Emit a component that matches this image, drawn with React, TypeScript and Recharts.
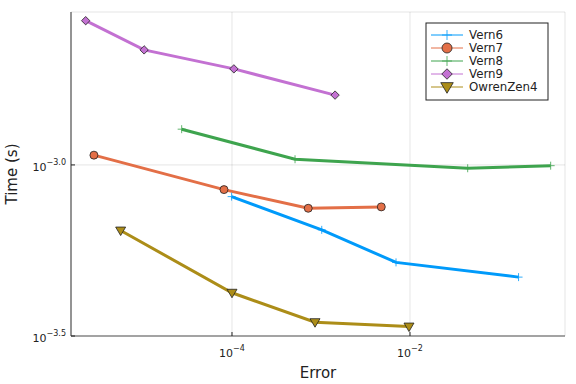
import React from "react";
import { LineChart, Line, XAxis, YAxis, CartesianGrid } from "recharts";

// errors (x) and run times in seconds (y)
const vern6Err = [9.9e-5, 1.02e-3, 6.97e-3, 0.166];
const vern6Time = [8.08e-4, 6.46e-4, 5.19e-4, 4.7e-4];
const vern7Err = [2.81e-6, 8.13e-5, 7.19e-4, 4.76e-3];
const vern7Time = [1.068e-3, 8.47e-4, 7.47e-4, 7.54e-4];
const vern8Err = [2.72e-5, 5.11e-4, 0.0445, 0.381];
const vern8Time = [1.272e-3, 1.039e-3, 9.78e-4, 9.95e-4];
const vern9Err = [2.27e-6, 1.03e-5, 1.05e-4, 1.44e-3];
const vern9Time = [2.64e-3, 2.169e-3, 1.909e-3, 1.6e-3];
const owrenErr = [5.61e-6, 1.0e-4, 8.57e-4, 9.75e-3];
const owrenTime = [6.43e-4, 4.23e-4, 3.47e-4, 3.37e-4];

const xTicks = [1e-4, 1e-2];
const yTicks = [Math.pow(10, -3.5), 1e-3];

const FONT = "DejaVu Sans, sans-serif";

type Kind = "cross" | "circle" | "diamond" | "dtriangle";

const series: { name: string; color: string; kind: Kind; err: number[]; time: number[] }[] = [
  { name: "Vern6", color: "#009AFA", kind: "cross", err: vern6Err, time: vern6Time },
  { name: "Vern7", color: "#E36F47", kind: "circle", err: vern7Err, time: vern7Time },
  { name: "Vern8", color: "#3EA44E", kind: "cross", err: vern8Err, time: vern8Time },
  { name: "Vern9", color: "#C371D2", kind: "diamond", err: vern9Err, time: vern9Time },
  { name: "OwrenZen4", color: "#AC8D18", kind: "dtriangle", err: owrenErr, time: owrenTime },
];

function Marker({ cx, cy, kind, color, s = 1 }: { cx: number; cy: number; kind: Kind; color: string; s?: number }) {
  if (cx == null || cy == null || isNaN(cx) || isNaN(cy)) return null;
  const edge = "#222";
  if (kind === "cross") {
    const h = 4 * s;
    return (
      <g stroke={color} strokeWidth={1} opacity={0.8}>
        <line x1={cx - h} y1={cy} x2={cx + h} y2={cy} />
        <line x1={cx} y1={cy - h} x2={cx} y2={cy + h} />
      </g>
    );
  }
  if (kind === "circle") {
    return <circle cx={cx} cy={cy} r={4 * s} fill={color} stroke={edge} strokeWidth={0.8} />;
  }
  if (kind === "diamond") {
    const h = 4.2 * s;
    return (
      <polygon
        points={`${cx},${cy - h} ${cx + h},${cy} ${cx},${cy + h} ${cx - h},${cy}`}
        fill={color}
        stroke={edge}
        strokeWidth={0.8}
      />
    );
  }
  const w = 5 * s;
  return (
    <polygon
      points={`${cx - w},${cy - 3.5 * s} ${cx + w},${cy - 3.5 * s} ${cx},${cy + 5 * s}`}
      fill={color}
      stroke={edge}
      strokeWidth={0.8}
    />
  );
}

function Pow10({ x, y, exp, anchor }: { x: number; y: number; exp: string; anchor: "start" | "middle" | "end" }) {
  return (
    <text x={x} y={y} textAnchor={anchor} fontFamily={FONT} fontSize={11} fill="#222">
      10
      <tspan dy={-6} fontSize={8}>
        {exp}
      </tspan>
    </text>
  );
}

function XTick(props: any) {
  const { x, y, payload } = props;
  const e = Math.round(Math.log10(payload.value));
  return (
    <g>
      <line x1={x} y1={y} x2={x} y2={y - 4} stroke="#222" strokeWidth={1} />
      <Pow10 x={x} y={y + 21} exp={"\u2212" + Math.abs(e)} anchor="middle" />
    </g>
  );
}

function YTick(props: any) {
  const { x, y, payload } = props;
  const e = Math.log10(payload.value);
  return (
    <g>
      <line x1={x} y1={y} x2={x + 4} y2={y} stroke="#222" strokeWidth={1} />
      <Pow10 x={x - 5} y={y + 6} exp={"\u2212" + Math.abs(e).toFixed(1)} anchor="end" />
    </g>
  );
}

function LegendBox() {
  const x0 = 426;
  const y0 = 23;
  return (
    <g>
      <rect x={x0} y={y0} width={122} height={77} fill="#fff" stroke="#222" strokeWidth={1} />
      {series.map((s, i) => {
        const cy = y0 + 12 + i * 13;
        return (
          <g key={s.name}>
            <line x1={x0 + 5} y1={cy} x2={x0 + 37} y2={cy} stroke={s.color} strokeWidth={1} />
            <Marker cx={x0 + 21} cy={cy} kind={s.kind} color={s.color} s={1.25} />
            <text x={x0 + 43} y={cy + 4} fontFamily={FONT} fontSize={11.8} fill="#222">
              {s.name}
            </text>
          </g>
        );
      })}
    </g>
  );
}

export default function App() {
  return (
    <div style={{ position: "absolute", left: 0, top: 0, background: "#fff" }}>
      <LineChart width={576} height={384} margin={{ top: 12, right: 11, bottom: 0, left: 0 }}>
        <CartesianGrid stroke="#000" strokeOpacity={0.1} strokeWidth={1} />
        <XAxis
          dataKey="x"
          type="number"
          scale="log"
          domain={[Math.pow(10, -5.809), Math.pow(10, -0.258)]}
          allowDataOverflow
          ticks={xTicks}
          height={48}
          tickLine={false}
          tickSize={0}
          tickMargin={0}
          tick={<XTick />}
          axisLine={{ stroke: "#555", strokeWidth: 1.2 }}
        />
        <YAxis
          dataKey="y"
          type="number"
          scale="log"
          domain={[Math.pow(10, -3.5), Math.pow(10, -2.553)]}
          allowDataOverflow
          ticks={yTicks}
          width={71}
          tickLine={false}
          tickSize={0}
          tickMargin={0}
          tick={<YTick />}
          axisLine={{ stroke: "#555", strokeWidth: 1.2 }}
        />
        {series.map((s) => (
          <Line
            key={s.name}
            name={s.name}
            data={s.err.map((e, i) => ({ x: e, y: s.time[i] }))}
            dataKey="y"
            stroke={s.color}
            strokeWidth={3}
            isAnimationActive={false}
            activeDot={false}
            dot={(p: any) => <Marker key={p.index} cx={p.cx} cy={p.cy} kind={s.kind} color={s.color} />}
          />
        ))}
        <LegendBox />
        <text x={318} y={378} textAnchor="middle" fontFamily={FONT} fontSize={15} fill="#222">
          Error
        </text>
        <text
          x={17}
          y={174}
          textAnchor="middle"
          fontFamily={FONT}
          fontSize={15}
          fill="#222"
          transform="rotate(-90 17 174)"
        >
          Time (s)
        </text>
      </LineChart>
    </div>
  );
}
